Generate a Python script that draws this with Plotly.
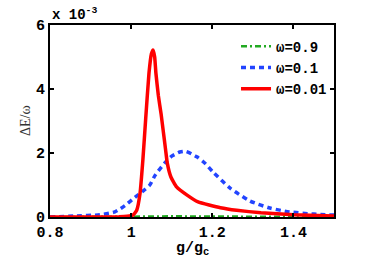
import plotly.graph_objects as go

# g/g_c sample positions and ΔE/ω values (in units of 1e-3)
g_09 = [0.80, 0.90, 1.00, 1.10, 1.20, 1.30, 1.40, 1.50]
dE_09 = [0.0, 0.005, 0.01, 0.02, 0.015, 0.01, 0.005, 0.003]

g_01 = [0.80, 0.86, 0.923, 0.96, 0.985, 1.01, 1.034, 1.046, 1.059, 1.083, 1.10, 1.12, 1.135,
        1.162, 1.182, 1.2, 1.244, 1.293, 1.342, 1.39, 1.45, 1.50]
dE_01 = [0.0, 0.03, 0.07, 0.16, 0.36, 0.62, 0.86, 1.0, 1.3, 1.69, 1.9, 2.03, 2.05,
         1.88, 1.68, 1.43, 0.9, 0.5, 0.28, 0.16, 0.09, 0.06]

g_001 = [0.80, 0.90, 0.97, 0.99, 1.005, 1.014, 1.022, 1.029, 1.036, 1.044, 1.050, 1.054,
         1.058, 1.061, 1.067, 1.074, 1.079, 1.085, 1.089, 1.098, 1.112, 1.137, 1.165,
         1.22, 1.26, 1.32, 1.40, 1.50]
dE_001 = [0.0, 0.0, 0.005, 0.02, 0.06, 0.22, 0.75, 1.8, 3.1, 4.5, 5.1, 5.22,
          5.0, 4.5, 3.8, 3.2, 2.7, 2.09, 1.69, 1.25, 0.94, 0.69, 0.47,
          0.29, 0.21, 0.13, 0.07, 0.03]

x_ticks = [0.8, 1.0, 1.2, 1.4]
x_ticktext = ["0.8", "1", "1.2", "1.4"]
y_ticks = [0, 2, 4, 6]
y_ticktext = ["0", "2", "4", "6"]

MONO = "Liberation Mono"

fig = go.Figure()
fig.add_trace(go.Scatter(x=g_09, y=dE_09, mode="lines", name="ω=0.9",
                         line=dict(color="#22aa22", width=2.5, dash="6px,3px,2px,3px", shape="spline")))
fig.add_trace(go.Scatter(x=g_01, y=dE_01, mode="lines", name="ω=0.1",
                         line=dict(color="#2244ff", width=3.5, dash="5px,4px", shape="spline", smoothing=0.6)))
fig.add_trace(go.Scatter(x=g_001, y=dE_001, mode="lines", name="ω=0.01",
                         line=dict(color="#ff0000", width=3.5, shape="spline", smoothing=0.4)))

axis_common = dict(showline=True, linecolor="black", linewidth=2, mirror="ticks",
                   ticks="inside", ticklen=4, tickwidth=1.5, tickcolor="black",
                   showgrid=False, zeroline=False, automargin=False,
                   tickfont=dict(family=MONO, size=15, color="black", weight="bold"))

fig.update_xaxes(range=[0.8, 1.5], tickvals=x_ticks, ticktext=x_ticktext, **axis_common)
fig.update_yaxes(range=[0, 6], tickvals=y_ticks, ticktext=y_ticktext, **axis_common)

# axis titles as annotations for precise placement
fig.add_annotation(text="g/g<sub>c</sub>", xref="paper", yref="paper", x=0.5, y=-0.165,
                   xanchor="center", yanchor="middle", showarrow=False,
                   font=dict(family=MONO, size=15, color="black", weight="bold"))
fig.add_annotation(text="ΔE/ω", xref="paper", yref="paper", x=-0.088, y=0.5,
                   xanchor="center", yanchor="middle", textangle=-90, showarrow=False,
                   font=dict(family="Liberation Serif", size=14, color="#333"))

fig.add_annotation(text="x 10<sup>-3</sup>", xref="paper", yref="paper", x=0.0, y=1.0,
                   xanchor="left", yanchor="bottom", showarrow=False,
                   font=dict(family=MONO, size=14, color="black", weight="bold"))

fig.update_layout(width=374, height=262,
                  margin=dict(l=50, r=40, t=25, b=45),
                  plot_bgcolor="white", paper_bgcolor="white",
                  legend=dict(x=0.655, y=0.97, xanchor="left", yanchor="top",
                              bgcolor="rgba(0,0,0,0)", itemwidth=30,
                              font=dict(family=MONO, size=14, color="black", weight="bold"),
                              tracegroupgap=0),
                  showlegend=True)

fig.write_html("out.html", config={"displayModeBar": False},
               post_script="document.body.style.margin='0';document.body.style.overflow='hidden';")
